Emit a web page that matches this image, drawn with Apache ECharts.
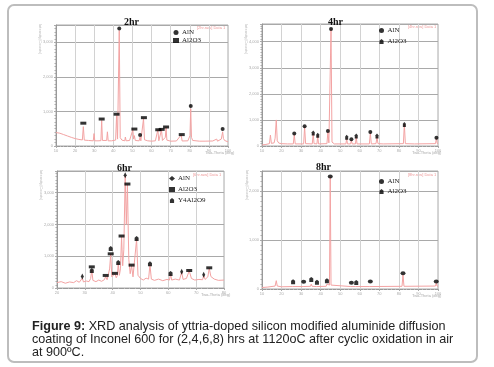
<!DOCTYPE html>
<html>
<head>
<meta charset="utf-8">
<script src="https://cdn.jsdelivr.net/npm/echarts@6.0.0/dist/echarts.min.js"></script>
<style>
  html, body { margin: 0; padding: 0; background: #fff; }
  #chart { width: 494px; height: 367px; }
</style>
</head>
<body>
<div id="chart"></div>
<script>
// XRD patterns, Figure 9 ([2theta, counts])
const panelTitles = ["2hr", "4hr", "6hr", "8hr"];

const trace2hr = [[10,390],[12,370],[14,330],[16,290],[18,250],[20,215],[22,190],[23.8,175],[24.3,560],[24.8,170],[27,160],[29.5,150],[29.9,360],[30.3,150],[32,150],[33.5,155],[33.9,740],[34.3,160],[36.5,160],[36.9,410],[37.3,150],[39,150],[41.2,170],[41.7,880],[42.2,200],[42.6,250],[43.1,3340],[43.6,240],[44.5,170],[46,150],[46.3,260],[46.7,150],[48.5,160],[49.5,200],[50.2,470],[50.6,200],[51,300],[51.5,160],[53.5,150],[54,260],[54.4,150],[55.2,170],[55.8,790],[56.3,180],[58,150],[60,140],[62,150],[63.3,470],[63.8,150],[64.8,180],[65.2,470],[65.7,160],[67.2,250],[67.6,540],[68,170],[70,140],[73,145],[75.5,320],[76,145],[79,150],[80.1,300],[80.5,1080],[80.9,250],[81.5,160],[85,140],[88,140],[92,145],[94.1,200],[94.5,140],[96.5,200],[97.2,410],[97.6,220],[98.2,160],[100,120]];
const aln2hr = [[43.1,3400],[54.0,320],[80.5,1160],[97.2,490]];
const al2o3_2hr = [[24.3,660],[33.9,780],[41.7,920],[51.0,490],[56.0,820],[63.5,470],[65.3,480],[67.6,550],[75.8,330]];

const trace4hr = [[10,40],[12,60],[13.8,90],[14.3,420],[14.8,100],[16.2,120],[16.7,300],[17.3,1000],[17.8,200],[18.6,110],[20,90],[23,80],[26,80],[26.5,430],[27,80],[31.3,80],[31.8,740],[32.3,90],[35.7,80],[36.2,480],[36.6,90],[38.1,80],[38.5,410],[38.9,80],[43.2,90],[43.7,540],[44.2,120],[44.8,150],[45.3,4470],[45.8,150],[47,80],[52.9,80],[53.3,290],[53.7,80],[55.3,80],[55.7,220],[56.1,80],[57.8,80],[58.2,350],[58.6,80],[64.9,80],[65.4,500],[65.9,80],[68.3,90],[68.8,350],[69.3,90],[72,80],[82.3,90],[82.8,840],[83.3,90],[88,80],[98.7,90],[99.2,290],[99.6,100],[100,90]];
const aln4hr = [[26.5,475],[31.8,755],[43.7,575],[45.3,4490],[55.7,255],[65.4,540],[99.2,320]];
const al2o3_4hr = [[36.2,500],[38.5,410],[53.3,335],[58.2,385],[68.8,385],[82.8,820]];

const trace6hr = [[20,170],[21.5,200],[23,150],[24.5,190],[26,170],[27,230],[28,180],[28.7,200],[29.1,310],[29.5,190],[30.5,220],[31.5,200],[32.1,300],[32.5,570],[32.9,240],[34,200],[35,250],[36,210],[37,260],[37.5,360],[38,260],[38.5,300],[38.9,600],[39.3,1060],[39.7,350],[40.3,300],[40.8,450],[41.3,320],[41.7,400],[42,780],[42.4,400],[42.8,600],[43.2,1610],[43.6,700],[44,1200],[44.5,3520],[44.9,2000],[45.3,3250],[45.8,900],[46.3,450],[46.8,700],[47.3,350],[48,400],[48.6,1530],[49.1,400],[50,300],[51,250],[52,310],[52.9,280],[53.4,730],[53.9,280],[55,240],[56.5,280],[58,230],[59.5,270],[60.4,250],[60.8,440],[61.2,250],[62.5,280],[64,250],[64.8,500],[65.3,270],[66.5,300],[67.5,540],[68.3,300],[69.5,250],[71,270],[72.3,260],[72.7,400],[73.2,270],[74.2,350],[74.7,620],[75.3,360],[76.5,280],[78,240],[80,250]];
const aln6hr = [[29.1,365],[44.5,3545],[64.8,510],[72.7,420]];
const al2o3_6hr = [[32.5,665],[37.5,395],[39.3,1075],[40.8,460],[43.2,1635],[45.3,3270],[46.8,720],[67.5,550],[74.7,635]];
const y4al2o9_6hr = [[32.5,550],[39.3,1240],[42.0,800],[48.6,1555],[53.4,760],[60.8,460]];

const trace8hr = [[10,30],[13,40],[16.7,60],[17.3,170],[17.8,60],[20,45],[25.5,50],[25.9,75],[26.3,50],[31,50],[31.3,68],[31.6,50],[34.8,55],[35.2,100],[35.6,55],[37.8,50],[38.1,88],[38.4,50],[42.8,55],[43.2,100],[43.6,60],[44.5,80],[44.9,2290],[45.3,80],[46,50],[55.4,50],[55.7,68],[56,50],[57.9,50],[58.2,75],[58.5,50],[65.1,50],[65.4,88],[65.7,50],[81.6,55],[82.1,290],[82.6,55],[98.7,60],[99.1,120],[99.5,60],[100,55]];
const aln8hr = [[31.3,150],[44.9,2300],[55.7,130],[65.4,155],[82.1,320],[99.1,155]];
const al2o3_8hr = [[25.9,150],[35.2,195],[38.1,140],[43.2,170],[58.2,135]];

const xRanges = [[10, 100], [10, 100], [20, 80], [10, 100]];
const yMaxes = [3500, 4680, 3680, 2410];

const captionLines = [
  "{b|Figure 9:} XRD analysis of yttria-doped silicon modified aluminide diffusion",
  "coating of Inconel 600 for (2,4,6,8) hrs at 1120oC after cyclic oxidation in air",
  "at 900ºC."
];

const grids = [
  { left: 56, top: 25, width: 172, height: 121 },
  { left: 262, top: 24, width: 176, height: 122 },
  { left: 57, top: 171, width: 167, height: 117 },
  { left: 262, top: 171, width: 176, height: 118 }
];

const house = "path://M5,0 L10,4 L10,12 L0,12 L0,4 Z";
const serif = "Liberation Serif";

const chart = echarts.init(document.getElementById("chart"));

function xAxisFor(i) {
  return {
    type: "value", gridIndex: i, min: xRanges[i][0], max: xRanges[i][1], interval: 10,
    axisLine: { lineStyle: { color: "#999" } },
    axisTick: { length: 2, lineStyle: { color: "#aaa" } },
    minorTick: { show: true, splitNumber: 5, length: 1, lineStyle: { color: "#bbb" } },
    axisLabel: { fontSize: 4, color: "#aaa", margin: 3 },
    splitLine: { show: true, lineStyle: { color: "#d2d2d2" } }
  };
}
function yAxisFor(i) {
  return {
    type: "value", gridIndex: i, min: 0, max: yMaxes[i], interval: 1000,
    axisLine: { show: true, lineStyle: { color: "#999" } },
    axisTick: { show: true, length: 2, lineStyle: { color: "#aaa" } },
    minorTick: { show: true, splitNumber: 10, length: 1.5, lineStyle: { color: "#aaa" } },
    axisLabel: { fontSize: 4, color: "#aaa", margin: 3, showMaxLabel: false },
    splitLine: { show: true, lineStyle: { color: "#a9a9a9" } }
  };
}
function trace(i, data) {
  return {
    type: "line", xAxisIndex: i, yAxisIndex: i, data: data, symbol: "none",
    lineStyle: { color: "#f3a3a3", width: 1 }, silent: true, z: 2
  };
}
function marks(i, name, data, symbol, size) {
  return {
    type: "scatter", name: name, xAxisIndex: i, yAxisIndex: i, data: data,
    symbol: symbol, symbolSize: size, itemStyle: { color: "#000" }, z: 5
  };
}
function legendFor(left, top, gap, names) {
  return {
    left: left, top: top, orient: "vertical", padding: 0, itemGap: gap,
    itemWidth: 6, itemHeight: 5, data: names,
    formatter: (n) => n.split("#")[0],
    textStyle: { fontFamily: serif, fontSize: 7, color: "#222", padding: [0, 0, 0, -2] }
  };
}
function tinyText(x, y, text, color, rot) {
  return {
    type: "text", x: x, y: y, rotation: rot || 0, silent: true,
    style: { text: text, fontSize: 4, fill: color, fontFamily: "Liberation Sans" }
  };
}
function captionLine(y, text) {
  return {
    type: "text", x: 32, y: y, silent: true,
    style: { text: text, fontFamily: "Liberation Sans", fontSize: 12.6, fill: "#222",
             rich: { b: { fontFamily: "Liberation Sans", fontSize: 12.6, fontWeight: "bold", fill: "#222" } } }
  };
}

const titlePos = [[124, 17], [328, 17], [117, 163], [316, 162]];

chart.setOption({
  animation: false,
  title: panelTitles.map((t, i) => ({
    text: t, left: titlePos[i][0], top: titlePos[i][1], padding: 0,
    textStyle: { fontFamily: serif, fontWeight: "bold", fontSize: 10, color: "#111" }
  })),
  grid: grids.map((g) => Object.assign({ show: true, borderColor: "#aaa", borderWidth: 1, backgroundColor: "#fff" }, g)),
  xAxis: [0, 1, 2, 3].map(xAxisFor),
  yAxis: [0, 1, 2, 3].map(yAxisFor),
  legend: [
    legendFor(173, 29, 1, ["AlN#2", "Al2O3#2"]),
    legendFor(379, 27, 4, ["AlN#4", "Al2O3#4"]),
    legendFor(169, 175, 4, ["AlN#6", "Al2O3#6", "Y4Al2O9#6"]),
    legendFor(379, 178, 3, ["AlN#8", "Al2O3#8"])
  ],
  series: [
    trace(0, trace2hr),
    marks(0, "AlN#2", aln2hr, "circle", [4, 4]),
    marks(0, "Al2O3#2", al2o3_2hr, "rect", [6, 3]),
    trace(1, trace4hr),
    marks(1, "AlN#4", aln4hr, "circle", [4, 4]),
    marks(1, "Al2O3#4", al2o3_4hr, house, [3, 5]),
    trace(2, trace6hr),
    marks(2, "AlN#6", aln6hr, "diamond", [3, 6]),
    marks(2, "Al2O3#6", al2o3_6hr, "rect", [6, 3]),
    marks(2, "Y4Al2O9#6", y4al2o9_6hr, house, [4, 5]),
    trace(3, trace8hr),
    marks(3, "AlN#8", aln8hr, "circle", [5, 4]),
    marks(3, "Al2O3#8", al2o3_8hr, house, [4, 5])
  ],
  graphic: [
    { type: "rect", shape: { x: 8, y: 5, width: 469, height: 357, r: 6 }, silent: true,
      style: { fill: null, stroke: "#bdbdbd", lineWidth: 2 }, z: -1 },
    tinyText(42, 24, "Intensity(Counts)", "#bbb", -Math.PI / 2),
    tinyText(248, 24, "Intensity(Counts)", "#bbb", -Math.PI / 2),
    tinyText(43, 170, "Intensity(Counts)", "#bbb", -Math.PI / 2),
    tinyText(249, 170, "Intensity(Counts)", "#bbb", -Math.PI / 2),
    tinyText(205, 151, "Two-Theta (deg)", "#aaa"),
    tinyText(412, 151, "Two-Theta (deg)", "#aaa"),
    tinyText(201, 293, "Two-Theta (deg)", "#aaa"),
    tinyText(412, 294, "Two-Theta (deg)", "#aaa"),
    tinyText(197, 26, "[2hr.raw] Data 1", "#e99"),
    tinyText(408, 25, "[4hr.raw] Data 1", "#e99"),
    tinyText(193, 173, "[6hr.raw] Data 1", "#e99"),
    tinyText(408, 173, "[8hr.raw] Data 1", "#e99"),
    captionLine(320, captionLines[0]),
    captionLine(333, captionLines[1]),
    captionLine(346, captionLines[2])
  ]
});
</script>
</body>
</html>
